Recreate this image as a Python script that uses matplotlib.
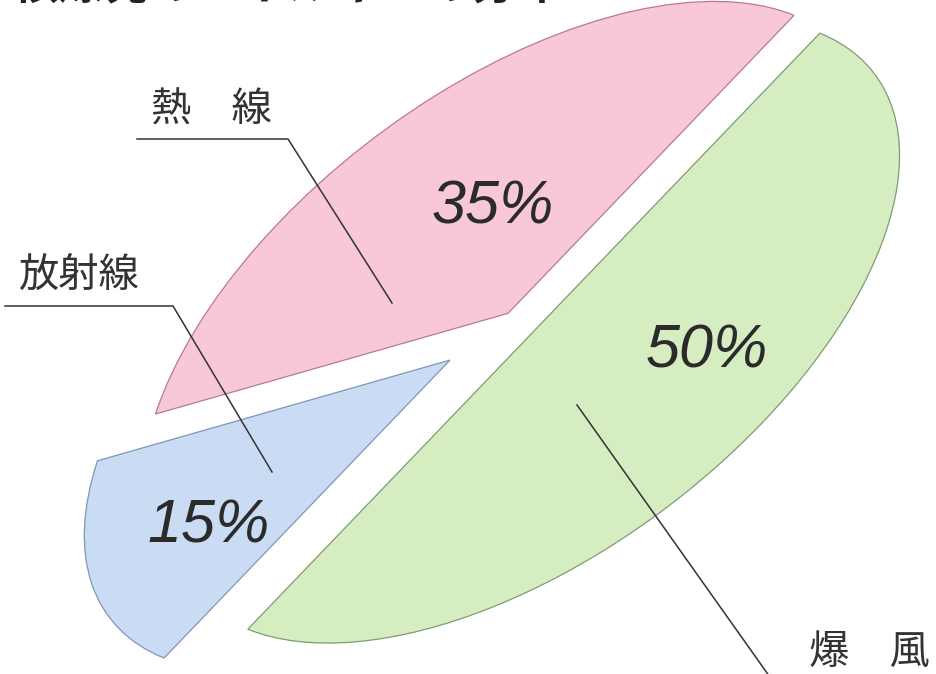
import numpy as np
import matplotlib
matplotlib.use('Agg')
import matplotlib.pyplot as plt
from matplotlib.transforms import Affine2D

plt.rcParams['font.family'] = ['Noto Sans CJK JP', 'DejaVu Sans']

# energy split, counterclockwise from the heat/blast boundary
names = ['熱　線', '放射線', '爆　風']
shares = [35, 15, 50]
title = '核爆発のエネルギーの分布'

colors = ['#F8C7D9', '#C9DCF4', '#D6EDC2']
edges = ['#B87A94', '#8196B5', '#7F9C72']
explode = [0.04, 0.17, 0.10]
# where the % text sits inside each slice (radius, turn from mid angle)
pct_dist = [0.44, 0.69, 0.62]
pct_turn = [-6, 5, 11]

W, H = 936, 674
fig = plt.figure(figsize=(W / 100, H / 100), dpi=100)
ax = fig.add_axes([0, 0, 1, 1])

# pie seen at a slant: unit circle -> pixel space
tilt = Affine2D(np.array([[286.0, -228.0, 511.0],
                          [-298.0, -92.0, 322.0],
                          [0.0, 0.0, 1.0]]))

wedges, _ = ax.pie(shares, explode=explode, colors=colors, startangle=0,
                   counterclock=True, radius=1.0,
                   wedgeprops=dict(linewidth=0.9))
for w, ec in zip(wedges, edges):
    w.set_edgecolor(ec)
    w.set_transform(tilt + ax.transData)

# percentage labels
start = 0.0
for share, ex, d, turn in zip(shares, explode, pct_dist, pct_turn):
    mid = np.deg2rad(start + share * 3.6 / 2)
    ang = mid + np.deg2rad(turn)
    x = ex * np.cos(mid) + d * np.cos(ang)
    y = ex * np.sin(mid) + d * np.sin(ang)
    ax.text(x, y, f'{share}%', transform=tilt + ax.transData,
            ha='center', va='center', fontsize=44, style='italic',
            family='Liberation Sans', color='#2b2b2b')
    start += share * 3.6

# category names with leader lines (pixel coords)
lead_color = '#333333'
ax.text(211, 110, names[0], ha='center', va='center', fontsize=29, color='#333333')
ax.plot([137, 288, 392], [139, 139, 303], color=lead_color, lw=1.1)

ax.text(78, 276, names[1], ha='center', va='center', fontsize=29, color='#333333')
ax.plot([5, 173, 272], [306, 306, 472], color=lead_color, lw=1.1)

ax.text(869, 652, names[2], ha='center', va='center', fontsize=29, color='#333333')
ax.plot([577, 772], [405, 680], color=lead_color, lw=1.1)

# heading, mostly cut off by the top edge
ax.text(12, -1, title, ha='left', va='baseline', fontsize=33,
        fontweight='bold', color='#222222')

ax.set_xlim(0, W)
ax.set_ylim(H, 0)
ax.set_aspect('auto')
ax.axis('off')

fig.savefig('out.png', dpi=100, facecolor='white')
